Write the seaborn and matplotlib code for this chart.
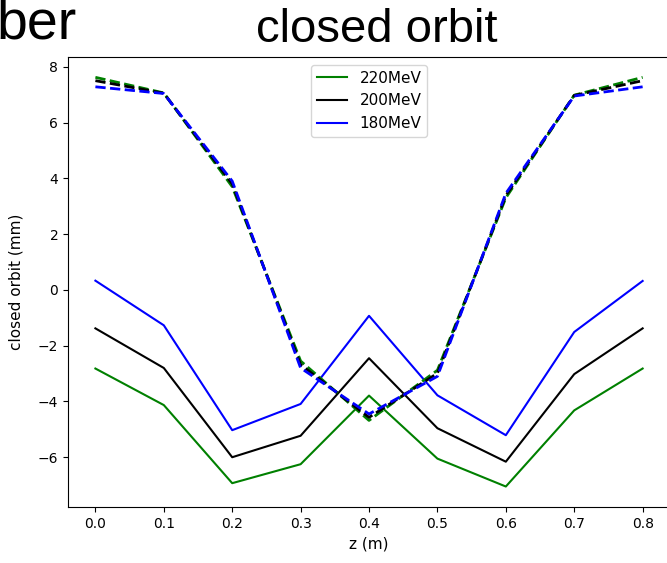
import numpy as np
import pandas as pd
import matplotlib
matplotlib.use("Agg")
import matplotlib.pyplot as plt
import seaborn as sns

# positions along z (m)
z = [0.0, 0.1, 0.2, 0.3, 0.4, 0.5, 0.6, 0.7, 0.8]

# solid lines (legend entries)
orbit_220 = [-2.82, -4.13, -6.93, -6.25, -3.79, -6.05, -7.05, -4.32, -2.82]
orbit_200 = [-1.38, -2.80, -6.00, -5.23, -2.45, -4.96, -6.16, -3.02, -1.38]
orbit_180 = [0.33, -1.27, -5.03, -4.09, -0.93, -3.78, -5.21, -1.51, 0.32]

# dashed lines
dash_220 = [7.62, 7.06, 3.70, -2.55, -4.68, -2.88, 3.30, 6.98, 7.62]
dash_200 = [7.50, 7.05, 3.80, -2.68, -4.57, -2.99, 3.38, 6.97, 7.50]
dash_180 = [7.28, 7.04, 3.90, -2.80, -4.45, -3.10, 3.46, 6.95, 7.28]

labels = ["220MeV", "200MeV", "180MeV"]
colors = ["green", "black", "blue"]

fig = plt.figure(figsize=(6.67, 5.63), dpi=100)
ax = fig.add_axes([0.102, 0.0995, 0.9025, 0.7995])

for vals, lab, col in zip([orbit_220, orbit_200, orbit_180], labels, colors):
    sns.lineplot(x=z, y=vals, color=col, label=lab, linewidth=1.5,
                 estimator=None, sort=False, ax=ax, legend=False)

for vals, col in zip([dash_220, dash_200, dash_180], colors):
    sns.lineplot(x=z, y=vals, color=col, linewidth=2, linestyle="--",
                 estimator=None, sort=False, ax=ax, legend=False)

ax.set_xlabel("z (m)", fontsize=11)
ax.set_ylabel("closed orbit (mm)", fontsize=11, labelpad=10)
ax.set_xticks(z)
ax.set_xticklabels([f"{v:.1f}" for v in z])
ax.legend(loc="upper center", fontsize=11)

# slide text around the figure
fig.text(0.565, 0.925, "closed orbit", ha="center", va="baseline",
         fontsize=34, family="Liberation Sans")
fig.text(-0.005, 0.931, "ber", ha="left", va="baseline",
         fontsize=40, family="Liberation Sans")

fig.savefig("out.png", dpi=100)
